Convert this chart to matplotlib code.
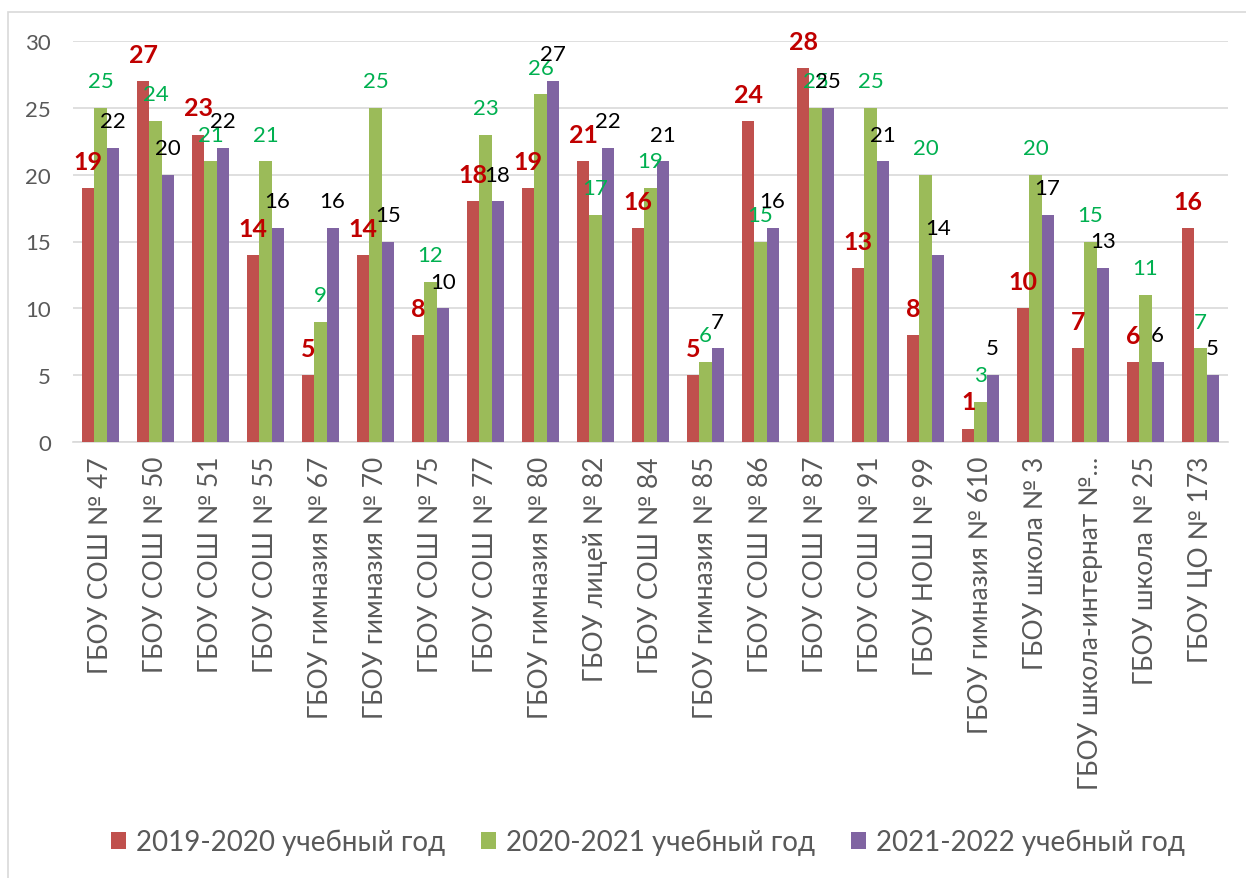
import numpy as np
import matplotlib.pyplot as plt
from matplotlib.patches import Rectangle

plt.rcParams['font.family'] = ['Lato', 'DejaVu Sans']

schools = ['ГБОУ СОШ № 47', 'ГБОУ СОШ № 50', 'ГБОУ СОШ № 51', 'ГБОУ СОШ № 55',
           'ГБОУ гимназия № 67', 'ГБОУ гимназия № 70', 'ГБОУ СОШ № 75', 'ГБОУ СОШ № 77',
           'ГБОУ гимназия № 80', 'ГБОУ лицей № 82', 'ГБОУ СОШ № 84', 'ГБОУ гимназия № 85',
           'ГБОУ СОШ № 86', 'ГБОУ СОШ № 87', 'ГБОУ СОШ № 91', 'ГБОУ НОШ № 99',
           'ГБОУ гимназия № 610', 'ГБОУ школа № 3', 'ГБОУ школа-интернат №...',
           'ГБОУ школа № 25', 'ГБОУ ЦО № 173']
y2019 = [19, 27, 23, 14, 5, 14, 8, 18, 19, 21, 16, 5, 24, 28, 13, 8, 1, 10, 7, 6, 16]
y2020 = [25, 24, 21, 21, 9, 25, 12, 23, 26, 17, 19, 6, 15, 25, 25, 20, 3, 20, 15, 11, 7]
y2021 = [22, 20, 22, 16, 16, 15, 10, 18, 27, 22, 21, 7, 16, 25, 21, 14, 5, 17, 13, 6, 5]
series_names = ['2019-2020 учебный год', '2020-2021 учебный год', '2021-2022 учебный год']

colors = ['#C0504D', '#9BBB59', '#8064A2']
lab_colors = ['#C00000', '#00B050', '#000000']
lab_weights = ['bold', 'normal', 'normal']
lab_sizes = [18, 16, 16]

fig = plt.figure(figsize=(12.46, 8.79), dpi=100, facecolor='w')
fig.patches.append(Rectangle((8/1246, -0.01), 1.0, 1 - 13/879 + 0.01, transform=fig.transFigure,
                             fill=False, edgecolor='#D9D9D9', lw=1.2))
ax = fig.add_axes([73/1246, 1 - 443/879, (1228 - 73)/1246, (443 - 42)/879])

x = np.arange(len(schools))
w = 0.22
for i, (vals, name) in enumerate(zip([y2019, y2020, y2021], series_names)):
    pos = x + (i - 1) * w
    ax.bar(pos, vals, w, color=colors[i], label=name, zorder=3)
    for px, v in zip(pos, vals):
        ax.text(px, v + 2, str(v), ha='center', va='center', fontsize=lab_sizes[i],
                color=lab_colors[i], fontweight=lab_weights[i], zorder=4)

ax.set_xlim(-0.5, len(schools) - 0.5)
ax.set_ylim(0, 30)
ax.set_yticks(range(0, 31, 5))
ax.yaxis.grid(True, color='#D9D9D9', lw=1.2, zorder=0)
ax.set_xticks(x)
ax.set_xticklabels(schools, rotation=90, fontsize=19, color='#595959')
ax.tick_params(axis='y', labelsize=16, labelcolor='#595959', length=0, pad=16)
ax.tick_params(axis='x', length=0, pad=10)
for s in ['top', 'right', 'left']:
    ax.spines[s].set_visible(False)
ax.spines['bottom'].set_color('#D9D9D9')
ax.spines['bottom'].set_linewidth(1.2)

fig.legend(loc='center', bbox_to_anchor=(0.52, 1 - 843/879), ncol=3, frameon=False,
           fontsize=20, labelcolor='#595959', handlelength=0.55, handleheight=0.55,
           handletextpad=0.35, columnspacing=1.3)

plt.savefig('out.png', dpi=100)
